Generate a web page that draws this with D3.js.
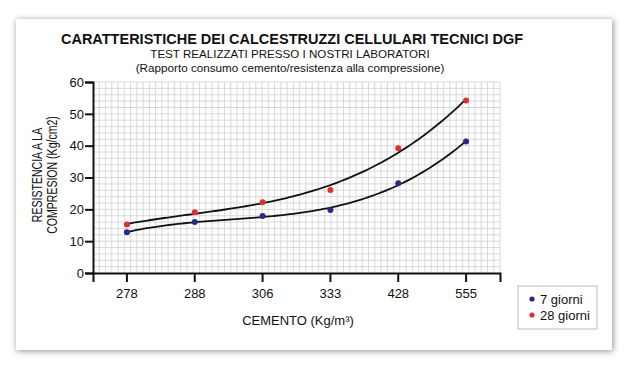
<!DOCTYPE html>
<html>
<head>
<meta charset="utf-8">
<script src="https://cdn.jsdelivr.net/npm/d3@7"></script>
<style>
    body { margin: 0; background: #fff; }
    svg { display: block; font-family: Arial, "Liberation Sans", sans-serif; }
</style>
</head>
<body>
<div id="chart"></div>
<script>
const categories = ["278", "288", "306", "333", "428", "555"];
const giorni7 = [12.8, 16.0, 17.9, 19.8, 28.2, 41.3];
const giorni28 = [15.2, 19.1, 22.2, 26.1, 39.2, 54.2];
const yTicks = [0, 10, 20, 30, 40, 50, 60];

const series = [
    { name: "7 giorni", values: giorni7, color: "#2b2886" },
    { name: "28 giorni", values: giorni28, color: "#e0302c" }
];

const width = 630, height = 367;

const svg = d3.select('#chart')
    .append('svg')
    .attr('width', width)
    .attr('height', height);

// card with soft shadow
const defs = svg.append('defs');
const shadow = defs.append('filter')
    .attr('id', 'shadow')
    .attr('x', '-5%').attr('y', '-5%')
    .attr('width', '110%').attr('height', '110%');
shadow.append('feDropShadow')
    .attr('dx', 1).attr('dy', 1)
    .attr('stdDeviation', 3)
    .attr('flood-color', '#000')
    .attr('flood-opacity', 0.45);

svg.append('rect')
    .attr('x', 16).attr('y', 19)
    .attr('width', 596).attr('height', 331)
    .attr('fill', '#fff')
    .attr('filter', 'url(#shadow)');

const x = d3.scaleBand()
    .domain(categories)
    .range([93, 500]);

const y = d3.scaleLinear()
    .domain([0, 60])
    .range([273, 82]);

const cx = d => x(d) + x.bandwidth() / 2;

// grid
const grid = svg.append('g');
const gx = d3.scaleLinear().domain([0, 65]).range([93, 500]);
grid.selectAll('line.v')
    .data(d3.range(1, 66))
    .join('line')
    .attr('x1', d => gx(d)).attr('x2', d => gx(d))
    .attr('y1', y(60)).attr('y2', y(0))
    .attr('stroke', '#cfcfcf')
    .attr('stroke-width', 0.8);
grid.selectAll('line.h')
    .data(d3.range(2, 61, 2))
    .join('line')
    .attr('x1', 93).attr('x2', 500)
    .attr('y1', d => y(d)).attr('y2', d => y(d))
    .attr('stroke', '#cfcfcf')
    .attr('stroke-width', 0.8);

// axes
const xAxis = svg.append('g')
    .attr('transform', `translate(0,${y(0)})`)
    .call(d3.axisBottom(x).tickSizeOuter(0).tickSize(9).tickPadding(7));
xAxis.select('.domain').attr('stroke', '#111').attr('stroke-width', 2);
xAxis.selectAll('.tick line').attr('stroke', '#111').attr('stroke-width', 2);
xAxis.selectAll('.tick text')
    .attr('font-size', 13).attr('fill', '#111')
    .attr('font-family', 'Arial, "Liberation Sans", sans-serif');

const yAxis = svg.append('g')
    .attr('transform', 'translate(93,0)')
    .call(d3.axisLeft(y).tickValues(yTicks).tickSizeOuter(0).tickSize(8).tickPadding(1));
yAxis.select('.domain').attr('stroke', '#111').attr('stroke-width', 2);
yAxis.selectAll('.tick line').attr('stroke', '#111').attr('stroke-width', 2);
yAxis.selectAll('.tick text')
    .attr('font-size', 13).attr('fill', '#111')
    .attr('font-family', 'Arial, "Liberation Sans", sans-serif');

// cubic least-squares trend through each series
function polyfit(ys, deg) {
    const n = deg + 1;
    const A = d3.range(n).map(() => new Array(n + 1).fill(0));
    ys.forEach((v, i) => {
        for (let r = 0; r < n; r++) {
            for (let c = 0; c < n; c++) A[r][c] += Math.pow(i, r + c);
            A[r][n] += v * Math.pow(i, r);
        }
    });
    for (let p = 0; p < n; p++) {
        for (let r = p + 1; r < n; r++) {
            const f = A[r][p] / A[p][p];
            for (let c = p; c <= n; c++) A[r][c] -= f * A[p][c];
        }
    }
    const coef = new Array(n).fill(0);
    for (let r = n - 1; r >= 0; r--) {
        let s = A[r][n];
        for (let c = r + 1; c < n; c++) s -= A[r][c] * coef[c];
        coef[r] = s / A[r][r];
    }
    return t => coef.reduce((acc, k, j) => acc + k * Math.pow(t, j), 0);
}

const idx = d3.scaleLinear()
    .domain([0, categories.length - 1])
    .range([cx(categories[0]), cx(categories[categories.length - 1])]);

const line = d3.line()
    .x(d => idx(d[0]))
    .y(d => y(d[1]));

series.forEach(s => {
    const f = polyfit(s.values, 3);
    const pts = d3.range(0, 5.001, 0.05).map(t => [t, f(t)]);
    svg.append('path')
        .datum(pts)
        .attr('d', line)
        .attr('fill', 'none')
        .attr('stroke', '#111')
        .attr('stroke-width', 1.8);
});

series.forEach(s => {
    svg.append('g')
        .selectAll('circle')
        .data(s.values)
        .join('circle')
        .attr('cx', (d, i) => cx(categories[i]))
        .attr('cy', d => y(d))
        .attr('r', 3)
        .attr('fill', s.color);
});

// titles
svg.append('text')
    .attr('x', 292).attr('y', 44)
    .attr('text-anchor', 'middle')
    .attr('font-size', 14.5).attr('font-weight', 'bold')
    .attr('fill', '#111')
    .text('CARATTERISTICHE DEI CALCESTRUZZI CELLULARI TECNICI DGF');

svg.append('text')
    .attr('x', 290).attr('y', 58)
    .attr('text-anchor', 'middle')
    .attr('font-size', 11.6).attr('fill', '#111')
    .text('TEST REALIZZATI PRESSO I NOSTRI LABORATORI');

svg.append('text')
    .attr('x', 290).attr('y', 72)
    .attr('text-anchor', 'middle')
    .attr('font-size', 11.7).attr('fill', '#111')
    .text('(Rapporto consumo cemento/resistenza alla compressione)');

svg.append('text')
    .attr('x', 298).attr('y', 325)
    .attr('text-anchor', 'middle')
    .attr('font-size', 13).attr('fill', '#111')
    .text('CEMENTO (Kg/m³)');

const yTitle = svg.append('text')
    .attr('transform', 'translate(0,175) rotate(-90) scale(0.88,1.15)')
    .attr('text-anchor', 'middle')
    .attr('font-size', 12).attr('fill', '#111');
yTitle.append('tspan').attr('x', 0).attr('y', 36.5).text('RESISTENCIA A LA');
yTitle.append('tspan').attr('x', 0).attr('y', 49.5).text('COMPRESION (Kg/cm2)');

// legend
const legend = svg.append('g');
legend.append('rect')
    .attr('x', 518).attr('y', 286)
    .attr('width', 79).attr('height', 43)
    .attr('fill', '#fff')
    .attr('stroke', '#bbb');
series.forEach((s, i) => {
    const ly = 299 + i * 16;
    legend.append('circle')
        .attr('cx', 532).attr('cy', ly)
        .attr('r', 2.6)
        .attr('fill', s.color);
    legend.append('text')
        .attr('x', 540).attr('y', ly + 4.5)
        .attr('font-size', 13).attr('fill', '#111')
        .text(s.name);
});
</script>
</body>
</html>
